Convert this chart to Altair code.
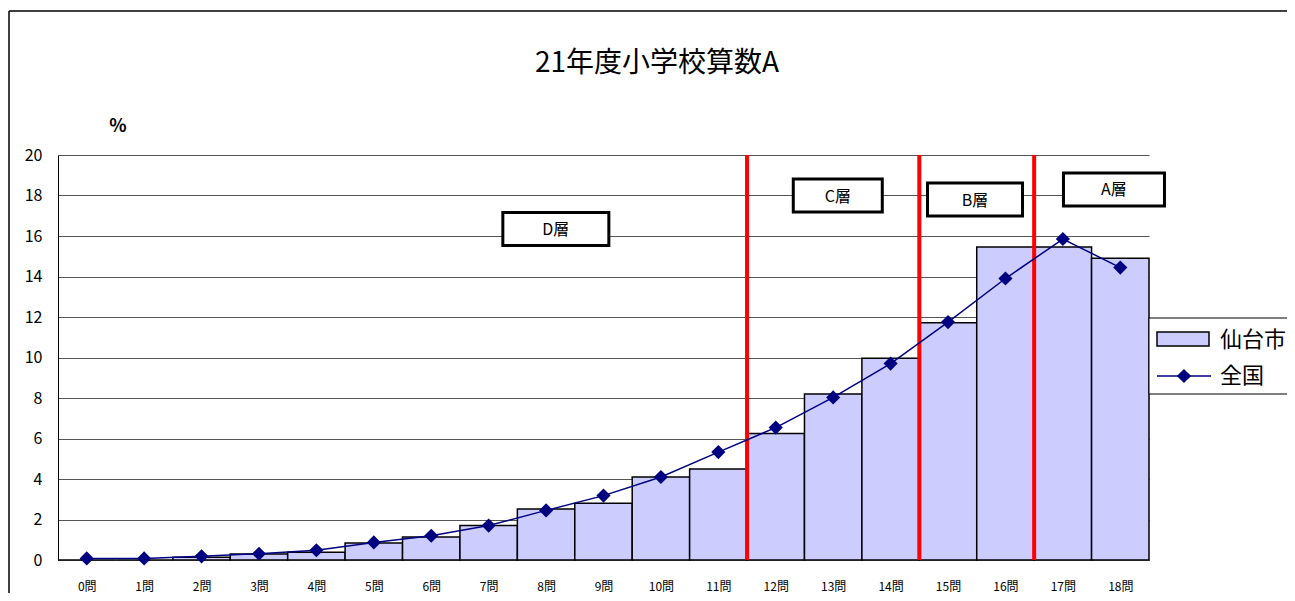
import altair as alt
import pandas as pd

questions = list(range(19))
sendai = [0.0, 0.0, 0.13, 0.3, 0.38, 0.84, 1.13, 1.7, 2.52, 2.8, 4.1, 4.49, 6.25, 8.2, 9.96, 11.72, 15.46, 15.46, 14.9]
zenkoku = [0.08, 0.08, 0.18, 0.31, 0.48, 0.87, 1.2, 1.7, 2.45, 3.18, 4.1, 5.33, 6.54, 8.03, 9.7, 11.75, 13.9, 15.85, 14.44]
boundaries = [11.5, 14.5, 16.5]
layer_names = ["D層", "C層", "B層", "A層"]
layer_x = [8.17, 13.08, 15.47, 17.89]
layer_y = [16.35, 18.0, 17.8, 18.3]
layer_box_w = [106, 89, 95, 101]
title_text = "21年度小学校算数A"

FONT = "Noto Sans CJK JP"
W, H = 1091, 405

df = pd.DataFrame({"q": questions, "sendai": sendai, "zenkoku": zenkoku})

xscale = alt.Scale(domain=[-0.5, 18.5], nice=False, zero=False)
yscale = alt.Scale(domain=[0, 20], nice=False)

base = alt.Chart(df)

bars = base.transform_calculate(
    x0="datum.q - 0.5", x1="datum.q + 0.5"
).mark_rect(fill="#ccccff", stroke="black", strokeWidth=1.5).encode(
    x=alt.X("x0:Q", scale=xscale,
            axis=alt.Axis(values=questions, labelExpr="datum.value + '問'", grid=False,
                          ticks=False, domainColor="#808080", labelFontSize=12,
                          labelPadding=21, labelColor="black", labelFont=FONT, title=None)),
    x2="x1:Q",
    y=alt.Y("sendai:Q", scale=yscale,
            axis=alt.Axis(values=list(range(0, 21, 2)), grid=True, gridColor="#555",
                          gridWidth=1, domainColor="black", ticks=False, labelFontSize=16,
                          labelPadding=16, labelColor="black", labelFont=FONT, title=None)),
    y2=alt.datum(0),
)

rules = alt.Chart(pd.DataFrame({"b": boundaries})).mark_rule(color="#ff0000", strokeWidth=4).encode(
    x=alt.X("b:Q", scale=xscale), y=alt.datum(20, scale=yscale), y2=alt.datum(0)
)

line = base.mark_line(color="#000080", strokeWidth=1.5).encode(
    x=alt.X("q:Q", scale=xscale), y=alt.Y("zenkoku:Q", scale=yscale)
)
points = base.mark_point(shape="diamond", filled=True, size=200, color="#000080", opacity=1).encode(
    x=alt.X("q:Q", scale=xscale), y=alt.Y("zenkoku:Q", scale=yscale)
)

ann_layers = []
for name, lx, ly, bw in zip(layer_names, layer_x, layer_y, layer_box_w):
    d = pd.DataFrame({"name": [name], "lx": [lx], "ly": [ly]})
    box = alt.Chart(d).mark_rect(width=bw, height=33, fill="white", stroke="black", strokeWidth=3).encode(
        x=alt.X("lx:Q", scale=xscale), y=alt.Y("ly:Q", scale=yscale)
    )
    txt = alt.Chart(d).mark_text(font=FONT, fontSize=16, color="black", dy=1).encode(
        x=alt.X("lx:Q", scale=xscale), y=alt.Y("ly:Q", scale=yscale), text="name:N"
    )
    ann_layers += [box, txt]

one = pd.DataFrame({"a": [0]})

frame_top = alt.Chart(one).mark_rule(color="black", strokeWidth=1.5).encode(
    x=alt.value(-49), x2=alt.value(1240), y=alt.value(-144))
frame_left = alt.Chart(one).mark_rule(color="black", strokeWidth=1.5).encode(
    x=alt.value(-49), y=alt.value(-144), y2=alt.value(440))

title = alt.Chart(one).mark_text(text=title_text, font=FONT, fontSize=28, color="black",
                                 baseline="middle").encode(
    x=alt.value(599), y=alt.value(-91))

pct = alt.Chart(one).mark_text(text="%", font=FONT, fontSize=18, fontWeight="bold", color="black").encode(
    x=alt.value(60), y=alt.value(-28))

leg_box = alt.Chart(one).mark_rect(fill="white", stroke="black", strokeWidth=1).encode(
    x=alt.value(W), x2=alt.value(1240), y=alt.value(163), y2=alt.value(239))
leg_sw = alt.Chart(one).mark_rect(fill="#ccccff", stroke="black", strokeWidth=1.5).encode(
    x=alt.value(1099), x2=alt.value(1151), y=alt.value(177), y2=alt.value(191))
leg_t1 = alt.Chart(one).mark_text(text="仙台市", font=FONT, fontSize=22, align="left", color="black").encode(
    x=alt.value(1162), y=alt.value(185))
leg_ln = alt.Chart(one).mark_rule(color="#000080", strokeWidth=1.5).encode(
    x=alt.value(1099), x2=alt.value(1153), y=alt.value(221))
leg_pt = alt.Chart(one).mark_point(shape="diamond", filled=True, size=200, color="#000080", opacity=1).encode(
    x=alt.value(1126), y=alt.value(221))
leg_t2 = alt.Chart(one).mark_text(text="全国", font=FONT, fontSize=22, align="left", color="black").encode(
    x=alt.value(1162), y=alt.value(221))

chart = alt.layer(
    frame_top, frame_left, bars, rules, line, points, *ann_layers, title, pct,
    leg_box, leg_sw, leg_t1, leg_ln, leg_pt, leg_t2
).properties(
    width=W, height=H,
    autosize=alt.AutoSizeParams(type="none"),
    padding={"left": 50, "top": 147, "right": 138, "bottom": 33},
).configure_view(stroke=None)

chart.save("out.html", embed_options={"renderer": "svg", "actions": False})
